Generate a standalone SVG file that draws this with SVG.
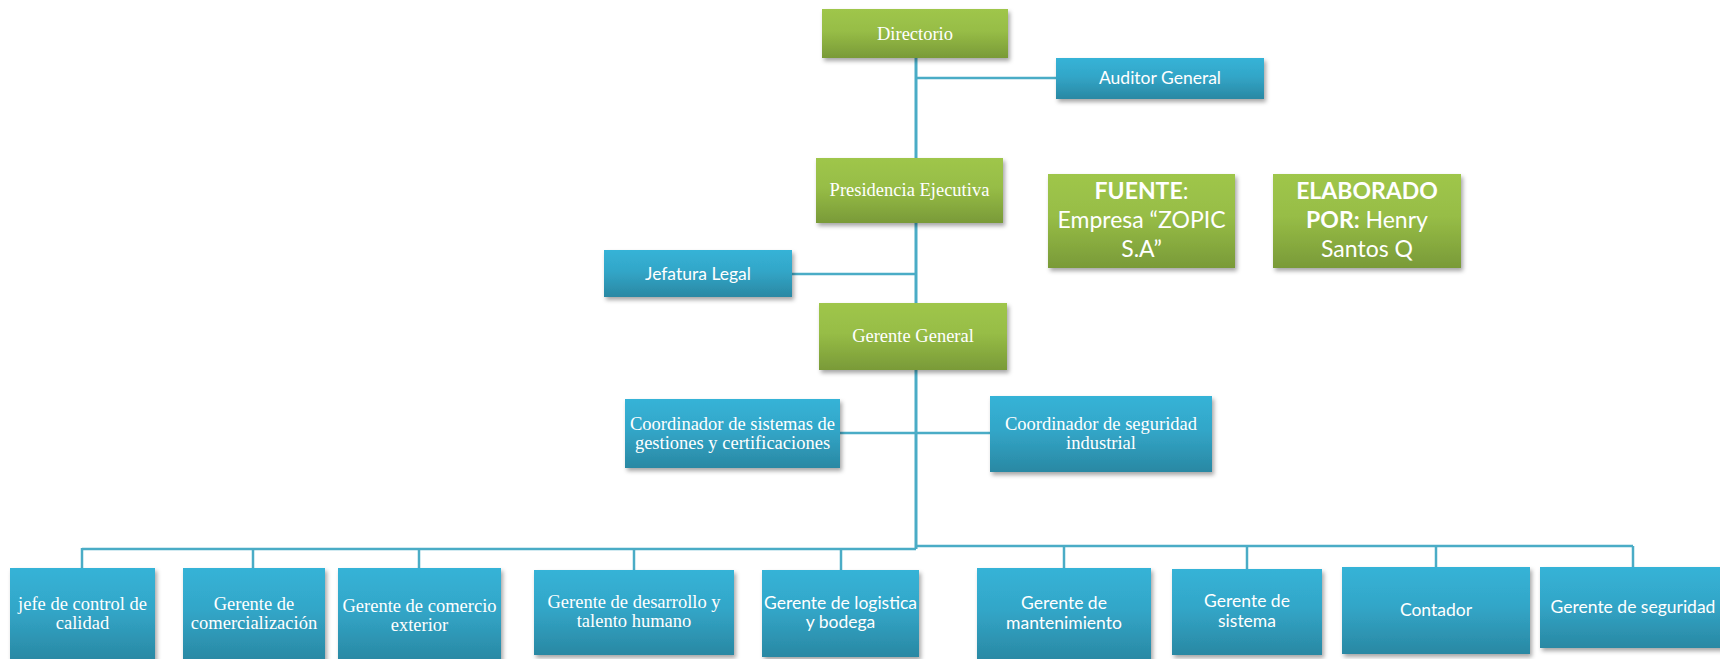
<svg xmlns="http://www.w3.org/2000/svg" width="1720" height="659" viewBox="0 0 1720 659">
<defs>
  <linearGradient id="gGreen" x1="0" y1="0" x2="0" y2="1">
    <stop offset="0" stop-color="#9FC64B"/>
    <stop offset="0.45" stop-color="#97BD46"/>
    <stop offset="1" stop-color="#799A38"/>
  </linearGradient>
  <linearGradient id="gBlue" x1="0" y1="0" x2="0" y2="1">
    <stop offset="0" stop-color="#36B3D7"/>
    <stop offset="0.45" stop-color="#32A6C8"/>
    <stop offset="1" stop-color="#2A88A3"/>
  </linearGradient>
  <filter id="sh" x="-10%" y="-10%" width="125%" height="135%">
    <feDropShadow dx="2" dy="3" stdDeviation="2.2" flood-color="#000" flood-opacity="0.35"/>
  </filter>
</defs>
<style>
  .g { fill: url(#gGreen); filter: url(#sh); }
  .b { fill: url(#gBlue); filter: url(#sh); }
  .c { stroke: #4AACC6; stroke-width: 2.5; fill: none; }
  .cv { stroke: #4AACC6; stroke-width: 3; fill: none; }
  .tt { font-family: "Liberation Serif", "Times New Roman", serif; font-size: 18.5px; fill: #FFFFFF; text-anchor: middle; }
  .ts { font-family: Lato, "Liberation Sans", sans-serif; font-size: 17.5px; fill: #FFFFFF; text-anchor: middle; }
  .tb { font-family: Lato, "Liberation Sans", sans-serif; font-size: 23px; fill: #FFFFFF; text-anchor: middle; }
  .bold { font-weight: bold; }
</style>
<rect width="1720" height="659" fill="#FFFFFF"/>

<g id="connectors">
  <line class="cv" x1="916" y1="58" x2="916" y2="549"/>
  <line class="c" x1="916" y1="78" x2="1056" y2="78"/>
  <line class="c" x1="791" y1="274" x2="916" y2="274"/>
  <line class="c" x1="840" y1="433" x2="990" y2="433"/>
  <line class="c" x1="82" y1="549" x2="916" y2="549"/>
  <line class="c" x1="916" y1="546" x2="1633" y2="546"/>
  <line class="c" x1="82" y1="548" x2="82" y2="568"/>
  <line class="c" x1="253" y1="548" x2="253" y2="568"/>
  <line class="c" x1="419" y1="548" x2="419" y2="568"/>
  <line class="c" x1="634" y1="548" x2="634" y2="570"/>
  <line class="c" x1="841" y1="548" x2="841" y2="570"/>
  <line class="c" x1="1064" y1="546" x2="1064" y2="568"/>
  <line class="c" x1="1247" y1="546" x2="1247" y2="569"/>
  <line class="c" x1="1436" y1="546" x2="1436" y2="567"/>
  <line class="c" x1="1633" y1="546" x2="1633" y2="567"/>
</g>

<g id="directorio">
  <rect class="g" x="822" y="9" width="186" height="49"/>
  <text class="tt" x="915" y="40">Directorio</text>
</g>
<g id="auditor">
  <rect class="b" x="1056" y="58" width="208" height="41"/>
  <text class="ts" x="1160" y="84">Auditor General</text>
</g>
<g id="presidencia">
  <rect class="g" x="816" y="158" width="187" height="65"/>
  <text class="tt" x="909.5" y="196">Presidencia Ejecutiva</text>
</g>
<g id="fuente">
  <rect class="g" x="1048" y="174" width="187" height="94"/>
  <text class="tb" x="1141.5" y="199"><tspan class="bold">FUENTE</tspan>:</text>
  <text class="tb" x="1141.5" y="228">Empresa “ZOPIC</text>
  <text class="tb" x="1141.5" y="257">S.A”</text>
</g>
<g id="elaborado">
  <rect class="g" x="1273" y="174" width="188" height="94"/>
  <text class="tb bold" x="1367" y="199">ELABORADO</text>
  <text class="tb" x="1367" y="228"><tspan class="bold">POR:</tspan> Henry</text>
  <text class="tb" x="1367" y="257">Santos Q</text>
</g>
<g id="jefatura">
  <rect class="b" x="604" y="250" width="188" height="47"/>
  <text class="ts" x="698" y="280">Jefatura Legal</text>
</g>
<g id="gerente-general">
  <rect class="g" x="819" y="303" width="188" height="67"/>
  <text class="tt" x="913" y="342">Gerente General</text>
</g>
<g id="coord-sistemas">
  <rect class="b" x="625" y="399" width="215" height="69"/>
  <text class="tt" x="732.5" y="430">Coordinador de sistemas de</text>
  <text class="tt" x="732.5" y="449">gestiones y certificaciones</text>
</g>
<g id="coord-seguridad">
  <rect class="b" x="990" y="396" width="222" height="76"/>
  <text class="tt" x="1101" y="430">Coordinador de seguridad</text>
  <text class="tt" x="1101" y="449">industrial</text>
</g>

<g id="jefe-calidad">
  <rect class="b" x="10" y="568" width="145" height="93"/>
  <text class="tt" x="82.5" y="610">jefe de control de</text>
  <text class="tt" x="82.5" y="629">calidad</text>
</g>
<g id="comercializacion">
  <rect class="b" x="183" y="568" width="142" height="93"/>
  <text class="tt" x="254" y="610">Gerente de</text>
  <text class="tt" x="254" y="629">comercialización</text>
</g>
<g id="comercio-exterior">
  <rect class="b" x="338" y="568" width="163" height="93"/>
  <text class="tt" x="419.5" y="612">Gerente de comercio</text>
  <text class="tt" x="419.5" y="631">exterior</text>
</g>
<g id="desarrollo">
  <rect class="b" x="534" y="570" width="200" height="85"/>
  <text class="tt" x="634" y="608">Gerente de desarrollo y</text>
  <text class="tt" x="634" y="627">talento humano</text>
</g>
<g id="logistica">
  <rect class="b" x="762" y="570" width="157" height="87"/>
  <text class="ts" x="840.5" y="609">Gerente de logistica</text>
  <text class="ts" x="840.5" y="628">y bodega</text>
</g>
<g id="mantenimiento">
  <rect class="b" x="977" y="568" width="174" height="93"/>
  <text class="ts" x="1064" y="609">Gerente de</text>
  <text class="ts" x="1064" y="629">mantenimiento</text>
</g>
<g id="sistema">
  <rect class="b" x="1172" y="569" width="150" height="86"/>
  <text class="ts" x="1247" y="607">Gerente de</text>
  <text class="ts" x="1247" y="627">sistema</text>
</g>
<g id="contador">
  <rect class="b" x="1342" y="567" width="188" height="87"/>
  <text class="ts" x="1436" y="616">Contador</text>
</g>
<g id="gerente-seguridad">
  <rect class="b" x="1540" y="567" width="186" height="81"/>
  <text class="ts" x="1633" y="613">Gerente de seguridad</text>
</g>
</svg>
